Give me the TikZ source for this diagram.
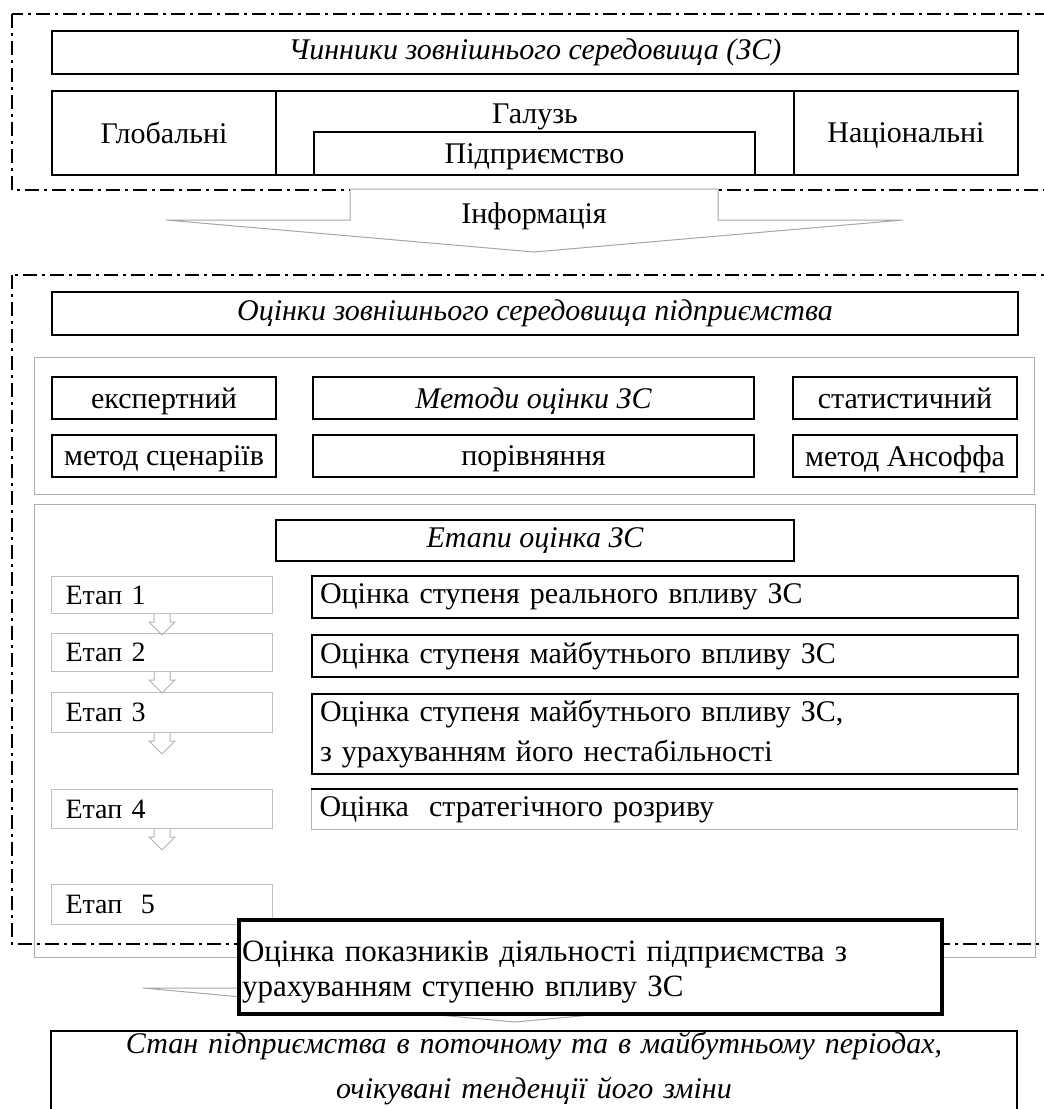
\documentclass[tikz,border=0pt]{standalone}
\usepackage{fontspec}
\setmainfont{Liberation Serif}
\usetikzlibrary{calc,positioning}

\newcommand{\zsfont}{\fontsize{30}{36}\selectfont}

\begin{document}
\begin{tikzpicture}[
  x=1pt, y=-1pt,
  font=\zsfont,
  frame/.style={draw, line width=1.8pt, dash pattern=on 14pt off 5pt on 3pt off 5pt},
  hbox/.style={draw, line width=2pt, fill=white, anchor=north west, inner sep=0pt},
  cbox/.style={hbox, text depth=0pt},
  itbox/.style={hbox, font=\zsfont\itshape},
  holder/.style={draw=black!32, line width=1pt, anchor=north west, inner sep=0pt},
  etapbox/.style={draw=black!25, line width=1pt, anchor=north west, inner xsep=14pt, inner ysep=0pt,
    text width=193pt, align=left, font=\fontsize{28}{34}\selectfont},
  sbox/.style={hbox, inner xsep=8pt, text width=690pt, align=left},
  barrow/.style={draw=black!35, fill=white, line width=1pt},
  sarrow/.style={draw=black!30, line width=1pt}
]
\useasboundingbox (0,0) rectangle (1044,1109);

% dash-dot frames
\draw[frame] (12,14) rectangle (1070,190);
\draw[frame] (12,275) rectangle (1070,944);

% factors of the environment
\node[itbox, minimum width=966pt, minimum height=43pt] (chynnyky) at (51,30) {Чинники зовнішнього середовища (ЗС)};
\node[cbox, minimum width=224pt, minimum height=84pt] (global) at (51,90) {Глобальні};
\node[hbox, minimum width=518pt, minimum height=84pt] (galuz) at (275,90) {};
\node[cbox, minimum width=224pt, minimum height=84pt] (nats) at (793,90) {Національні};
\node[below=10pt of galuz.north] (galuzt) {Галузь};
\node[cbox, minimum width=441pt, minimum height=43pt] (pidpr) at (313,131) {Підприємство};

% information arrow
\coordinate (infotop) at (534,189);
\draw[barrow] (infotop) ++(-184,0) -- ++(368,0) -- ++(0,31) -- ++(185,0) -- ++(-369,32)
  -- ++(-368,-32) -- ++(184,0) -- cycle;
\node[text depth=0pt] (info) at ($(infotop)+(0,24)$) {Інформація};

% assessment
\node[itbox, minimum width=966pt, minimum height=43pt] (otsinky) at (51,291) {Оцінки зовнішнього середовища підприємства};

% methods
\node[holder, minimum width=1000pt, minimum height=137pt] (metody) at (34,357) {};
\node[cbox, minimum width=224pt, minimum height=42pt] (ekspert) at (51,376) {експертний};
\node[itbox, text depth=0pt, minimum width=441pt, minimum height=42pt, right=35pt of ekspert] (metodyzs) {Методи оцінки ЗС};
\node[cbox, minimum width=224pt, minimum height=42pt, right=37pt of metodyzs] (statyst) {статистичний};
\node[cbox, minimum width=224pt, minimum height=42pt, below=14pt of ekspert] (stsenar) {метод сценаріїв};
\node[cbox, minimum width=441pt, minimum height=42pt, right=35pt of stsenar] (porivn) {порівняння};
\node[cbox, minimum width=224pt, minimum height=42pt, right=37pt of porivn] (ansoff) {метод Ансоффа};

% stages
\node[holder, minimum width=1001pt, minimum height=453pt] (etapy) at (34,504) {};
\node[itbox, minimum width=518pt, minimum height=41pt] (etapyzs) at (275,519) {Етапи оцінка ЗС};

\node[etapbox, minimum height=37pt] (e1) at (51,576) {Етап 1};
\node[etapbox, minimum height=38pt] (e2) at (51,633) {Етап 2};
\node[etapbox, minimum height=40pt] (e3) at (51,692) {Етап 3};
\node[etapbox, minimum height=39pt] (e4) at (51,789) {Етап 4};
\node[etapbox, minimum height=40pt] (e5) at (51,884) {Етап\ \ 5};

\foreach \e in {e1,e2,e3,e4}
  \draw[sarrow] ($(\e.south)+(-8,0)$) -- ++(0,8) -- ++(-5,0) -- ++(13,13) -- ++(13,-13) -- ++(-5,0) -- ++(0,-8);

\node[sbox, minimum height=42pt] (s1) at (311,575) {Оцінка ступеня реального впливу ЗС};
\node[sbox, minimum height=42pt] (s2) at (311,634) {Оцінка ступеня майбутнього впливу ЗС};
\node[sbox, minimum height=80pt] (s3) at (311,693) {Оцінка ступеня майбутнього впливу ЗС,\\[4pt]з урахуванням його нестабільності};
\node[sbox, draw=black!30, line width=1pt, minimum height=40pt] (s4) at (311,789) {Оцінка\ \ стратегічного розриву};
\draw[line width=2pt] (s4.north west) -- (s4.north east);

% result arrow, mostly under the box
\coordinate (vyhid) at (515,957);
\draw[barrow] (vyhid) ++(-185,0) -- ++(370,0) -- ++(0,31) -- ++(187,0) -- ++(-372,34)
  -- ++(-372,-34) -- ++(187,0) -- cycle;

\node[hbox, line width=4pt, minimum width=703pt, minimum height=94pt, inner xsep=3pt,
  text width=697pt, align=left, font=\fontsize{31}{35}\selectfont] (pokaz) at (237,918)
  {\rule{0pt}{30pt}Оцінка показників діяльності підприємства з\\урахуванням ступеню впливу ЗС};

\node[itbox, anchor=north, inner xsep=8pt, inner ysep=1pt, text width=950pt, align=center] (stan) at (534,1030)
  {Стан підприємства в поточному та в майбутньому періодах,\\[9pt]очікувані тенденції його зміни\rule[-40pt]{0pt}{40pt}};
\end{tikzpicture}
\end{document}
